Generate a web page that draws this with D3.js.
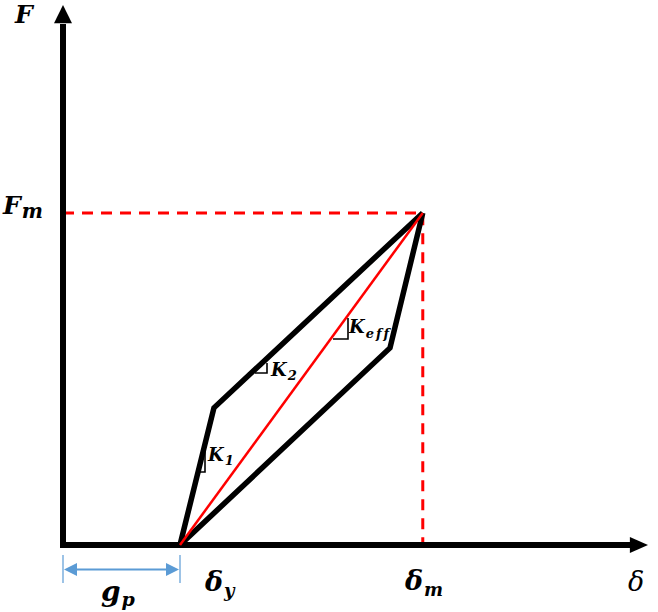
<!DOCTYPE html>
<html><head><meta charset="utf-8">
<script src="https://d3js.org/d3.v7.min.js"></script>
<style>body{margin:0;background:#fff}svg{display:block}</style>
</head><body>
<script>
// data (arbitrary units: 0-100 on each axis)
const gp = 20.0;
const upperBranchX = [20.0, 25.8, 61.5];
const upperBranchY = [0, 25.4, 61.5];
const lowerBranchX = [20.0, 55.9, 61.5];
const lowerBranchY = [0, 36.5, 61.5];
const peakX = [61.5];
const peakY = [61.5];
const secantX = [20.0, 61.5];
const secantY = [0, 61.5];

const W = 658, H = 612;
const svg = d3.select("body").append("svg").attr("width", W).attr("height", H);
const x = d3.scaleLinear().domain([0, 100]).range([63, 648]);
const y = d3.scaleLinear().domain([0, 100]).range([545, 5]);

const line = d3.line().x(d => x(d[0])).y(d => y(d[1]));

// dashed guides
svg.append("path").attr("d", line([[0, peakY[0]], [peakX[0], peakY[0]], [peakX[0], 0]]))
  .attr("fill", "none").attr("stroke", "#ff0000").attr("stroke-width", 3)
  .attr("stroke-dasharray", "11,8");

// axes
svg.append("line").attr("x1", x(0)).attr("y1", y(0)).attr("x2", x(0)).attr("y2", y(96.5))
  .attr("stroke", "#000").attr("stroke-width", 6);
svg.append("path").attr("d", `M${x(0)-9},${y(96.6)} L${x(0)},${y(100)} L${x(0)+9},${y(96.6)} Z`).attr("fill", "#000");
svg.append("line").attr("x1", x(0) - 3).attr("y1", y(0)).attr("x2", x(97.2)).attr("y2", y(0))
  .attr("stroke", "#000").attr("stroke-width", 6);
svg.append("path").attr("d", `M${x(96.9)},${y(0)-8} L${x(100)},${y(0)} L${x(96.9)},${y(0)+8} Z`).attr("fill", "#000");

// branches
const up = upperBranchX.map((v, i) => [v, upperBranchY[i]]);
const lo = lowerBranchX.map((v, i) => [v, lowerBranchY[i]]);
svg.append("path").attr("d", line(up)).attr("fill", "none").attr("stroke", "#000")
  .attr("stroke-width", 5.5).attr("stroke-linejoin", "miter");
svg.append("path").attr("d", line(lo)).attr("fill", "none").attr("stroke", "#000")
  .attr("stroke-width", 5.5).attr("stroke-linejoin", "miter");
const sec = secantX.map((v, i) => [v, secantY[i]]);
svg.append("path").attr("d", line(sec)).attr("fill", "none").attr("stroke", "#ff0000").attr("stroke-width", 2.5);

// slope triangles
const tri = (pts) => svg.append("path").attr("d", "M" + pts.map(p => p.join(",")).join("L"))
  .attr("fill", "none").attr("stroke", "#000").attr("stroke-width", 1.6);
tri([[205, 438], [205, 472], [200, 472]]);
tri([[255, 373], [267, 373], [267, 363]]);
tri([[333, 339], [348, 339], [348, 318]]);

// gp dimension
const blue = "#5b9bd5";
svg.append("line").attr("x1", x(0)).attr("x2", x(0)).attr("y1", 555).attr("y2", 583).attr("stroke", blue).attr("stroke-width", 1.2);
svg.append("line").attr("x1", x(gp)).attr("x2", x(gp)).attr("y1", 555).attr("y2", 583).attr("stroke", blue).attr("stroke-width", 1.2);
svg.append("line").attr("x1", x(0) + 8).attr("x2", x(gp) - 8).attr("y1", 569.5).attr("y2", 569.5).attr("stroke", blue).attr("stroke-width", 2);
svg.append("path").attr("d", `M${x(0)+1},569.5 L${x(0)+14},563 L${x(0)+14},576 Z`).attr("fill", blue);
svg.append("path").attr("d", `M${x(gp)-1},569.5 L${x(gp)-14},563 L${x(gp)-14},576 Z`).attr("fill", blue);

// labels
const font = "'DejaVu Serif', serif";
function lab(xp, yp, main, sub, size, subSize, bold, subDy, ls) {
  const t = svg.append("text").attr("x", xp).attr("y", yp)
    .attr("font-family", font).attr("font-style", "italic")
    .attr("font-weight", bold ? "bold" : "normal").attr("font-size", size).attr("fill", "#000");
  t.append("tspan").text(main);
  if (sub) t.append("tspan").attr("font-size", subSize).attr("dy", subDy)
    .attr("letter-spacing", ls || 0).attr("dx", 1).text(sub);
  return t;
}
lab(15, 23, "F", null, 25, 0, true);
lab(3, 214, "F", "m", 25, 20, true, 4);
lab(205, 591, "δ", "y", 27, 18, true, 6);
lab(405, 590, "δ", "m", 27, 18, true, 6);
lab(628, 591, "δ", null, 27, 0, false);
lab(101, 601, "g", "p", 28, 19, true, 5);
lab(208, 461, "K", "1", 18, 13, true, 4);
lab(271, 376, "K", "2", 18, 13, true, 4);
lab(349, 333, "K", "eff", 18, 13, true, 5, 2);
</script>
</body></html>
